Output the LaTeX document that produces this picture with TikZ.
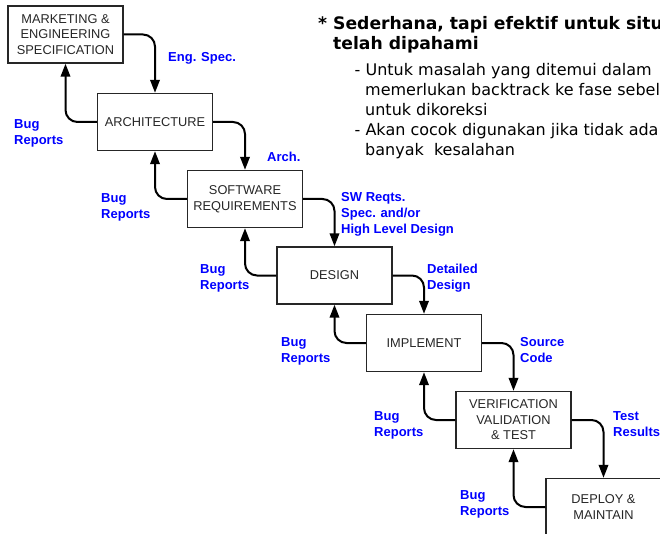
\documentclass[tikz,border=0pt]{standalone}
\usepackage{fontspec}
\setmainfont{Liberation Sans}
\newfontfamily\dejavu{DejaVu Sans}
\usepackage{xcolor}
\usepackage{tikz}
\usetikzlibrary{positioning,calc,arrows.meta}

\tikzset{
    phase/.style={draw=black!85, line width=1.4pt, minimum width=115pt, minimum height=57pt,
        inner sep=0pt, align=center, text=black!85, font=\fontsize{12.8}{15.5}\selectfont},
    flow/.style={line width=2pt, rounded corners=12pt, -{Triangle[length=13pt,width=9.5pt]}},
    note/.style={anchor=north west, inner sep=0pt, align=left, text=blue,
        font=\bfseries\fontsize{13}{16}\selectfont},
    bullet/.style={anchor=base west, inner sep=0pt, font=\dejavu\fontsize{16}{20}\selectfont},
    heading/.style={bullet, font=\dejavu\bfseries\fontsize{17.2}{21}\selectfont}
}

\begin{document}
\begin{tikzpicture}[x=1pt, y=-1pt]
    \useasboundingbox (0,0) rectangle (660,534);
    \clip (0,0) rectangle (660,534);

    \node (A) at (65.5,34.5) [phase] {MARKETING \&\\ENGINEERING\\SPECIFICATION};
    \node (B) at (155,122) [phase] {ARCHITECTURE};
    \node (C) at (245,199) [phase] {SOFTWARE\\REQUIREMENTS};
    \node (D) at (334.5,275.5) [phase] {DESIGN};
    \node (E) at (424,343) [phase] {IMPLEMENT};
    \node (F) at (513.5,420) [phase] {VERIFICATION\\VALIDATION\\\& TEST};
    \node (G) at (603.5,507) [phase] {DEPLOY \&\\MAINTAIN};

    % going down the steps
    \draw[flow] (A.east) -| (B.north);
    \draw[flow] (B.east) -| (C.north);
    \draw[flow] (C.east) -| (D.north);
    \draw[flow] (D.east) -| (E.north);
    \draw[flow] (E.east) -| (F.north);
    \draw[flow] (F.east) -| (G.north);

    % going back up
    \draw[flow] (B.west) -| (A.south);
    \draw[flow] (C.west) -| (B.south);
    \draw[flow] (D.west) -| (C.south);
    \draw[flow] (E.west) -| (D.south);
    \draw[flow] (F.west) -| (E.south);
    \draw[flow] (G.west) -| (F.south);

    \node (AB) at (168,52) [note] {Eng. Spec.};
    \node (BC) at (267,152) [note] {Arch.};
    \node (CD) at (341,192) [note] {SW Reqts.\\Spec. and/or\\High Level Design};
    \node (DE) at (427,264) [note] {Detailed\\Design};
    \node (EF) at (520,337) [note] {Source\\Code};
    \node (FG) at (613,411) [note] {Test\\Results};

    \node (BA) at (14,119) [note] {Bug\\Reports};
    \node (CB) at (101,193) [note] {Bug\\Reports};
    \node (DC) at (200,264) [note] {Bug\\Reports};
    \node (ED) at (281,337) [note] {Bug\\Reports};
    \node (FE) at (374,411) [note] {Bug\\Reports};
    \node (GF) at (460,490) [note] {Bug\\Reports};

    \node (T1) at (318,29.5) [heading] {* Sederhana, tapi efektif untuk situ};
    \node (T2) at (333,50) [heading] {telah dipahami};
    \node (L1) at (354.5,76) [bullet] {- Untuk masalah yang ditemui dalam};
    \node (L2) at (365,96) [bullet] {memerlukan backtrack ke fase sebel};
    \node (L3) at (365,115.5) [bullet] {untuk dikoreksi};
    \node (L4) at (354.5,136) [bullet] {- Akan cocok digunakan jika tidak ada};
    \node (L5) at (365,156) [bullet] {banyak\ \ kesalahan};
\end{tikzpicture}
\end{document}
